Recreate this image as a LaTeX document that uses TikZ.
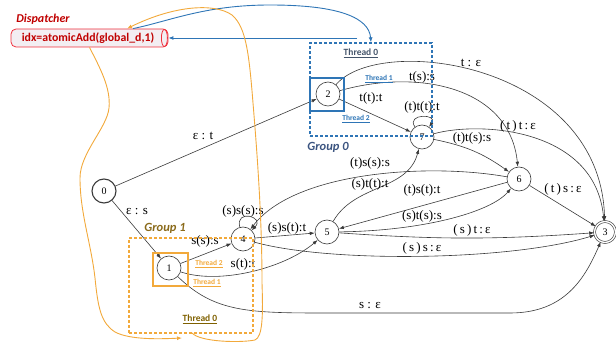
\documentclass[tikz,border=0pt]{standalone}
\usepackage{fontspec}
\setmainfont{Liberation Serif}
\newfontfamily\calib{Carlito}
\usetikzlibrary{arrows.meta,calc}
\definecolor{edgec}{HTML}{3A3A3A}
\definecolor{blueC}{HTML}{2E75B6}
\definecolor{orangeC}{HTML}{F2A93B}
\definecolor{slate}{HTML}{44546A}
\definecolor{gzero}{HTML}{3B5480}
\definecolor{gone}{HTML}{8A6A1A}
\definecolor{tzero}{HTML}{7F6000}
\definecolor{dred}{HTML}{C00000}
\definecolor{dborder}{HTML}{F0303C}
\definecolor{dfill}{HTML}{F3EEF2}
\begin{document}
\begin{tikzpicture}[x=1pt,y=1pt,
  st/.style={circle,draw=edgec,line width=0.6pt,minimum size=24pt,inner sep=0pt,font=\fontsize{10}{12}\selectfont},
  tr/.style={draw=edgec,line width=0.6pt,-{Latex[length=5pt,width=3.6pt]}},
  lb/.style={font=\fontsize{13}{15}\selectfont,inner sep=0pt,text=black},
  thr/.style={font=\calib\bfseries\fontsize{7.5}{9}\selectfont,inner sep=0pt},
  thz/.style={font=\calib\bfseries\fontsize{9.5}{11}\selectfont,inner sep=0pt},
  grp/.style={font=\calib\bfseries\itshape\fontsize{12.5}{14}\selectfont,inner sep=0pt},
  bluearr/.style={draw=blueC,line width=0.9pt,-{Latex[length=5pt,width=4pt]}},
  orarr/.style={draw=orangeC,line width=0.9pt,-{Latex[length=5pt,width=4pt]}},
  bdash/.style={draw=blueC,line width=1.3pt,dash pattern=on 3pt off 2pt,minimum width=122pt,minimum height=93pt,inner sep=0pt},
  odash/.style={draw=orangeC,line width=1.3pt,dash pattern=on 3pt off 2pt,minimum width=124pt,minimum height=95pt,inner sep=0pt}
]
\useasboundingbox (0,0) rectangle (616,343);

% states
\node[st,line width=1.1pt] (n0) at (104,152) {0};
\node[st] (n1) at (169,75) {1};
\node[st] (n2) at (328,249) {2};
\node[st,double,double distance=1.4pt,minimum size=21pt] (n3) at (605,111) {3};
\node[st] (n4) at (243,104) {4};
\node[st] (n5) at (327,111) {5};
\node[st] (n6) at (519,164) {6};
\node[st] (n7) at (422,206) {7};

% transitions
\draw[tr] (n0) -- (n2);
\draw[tr] (n0) -- (n1);
\draw[tr] (n1) -- (n4);
\draw[tr] (n1) .. controls (220,58) and (285,75) .. (n5);
\draw[tr] (n1) .. controls (215,30) and (250,30) .. (330,30) -- (510,30) .. controls (565,30) and (585,65) .. (n3);
\draw[tr] (n4) to[out=105,in=45,looseness=4] (n4);
\draw[tr] (n4) -- (n5);
\draw[tr] (n4) .. controls (330,80) and (510,82) .. (n3);
\draw[tr] (n5) to[bend right=4] (n3);
\draw[tr] (n5) .. controls (420,112) and (490,130) .. (n6);
\draw[tr] (n6) -- (n5);
\draw[tr] (n6) .. controls (430,180) and (295,172) .. (n4);
\draw[tr] (n5) to[out=60,in=-105] (n7);
\draw[tr] (n7) to[out=125,in=55,looseness=3] (n7);
\draw[tr] (n7) to[bend left=12] (n6);
\draw[tr] (n7) .. controls (480,222) and (595,215) .. (n3);
\draw[tr] (n6) -- (n3);
\draw[tr] (n2) -- (n7);
\draw[tr] (n2) .. controls (420,275) and (510,255) .. (n6);
\draw[tr] (n2) .. controls (380,310) and (600,280) .. (n3);

% labels
\node[lb] (l02) at (203,207) {ε : t};
\node[lb] (l01) at (137,131) {ε : s};
\node[lb] (l14) at (205,102) {s(s):s};
\node[lb] (l15) at (243,79) {s(t):t};
\node[lb] (l13) at (370,37) {s : ε};
\node[lb] (l44) at (243,132) {(s)s(s):s};
\node[lb] (l45) at (287,115) {(s)s(t):t};
\node[lb] (l43) at (422,95) {(\,s\,)\,s\,:\,ε};
\node[lb] (l53) at (472,113) {(\,s\,)\,t\,:\,ε};
\node[lb] (l56) at (422,127) {(s)t(s):s};
\node[lb] (l65) at (422,153) {(t)s(t):t};
\node[lb] (l64) at (370,180) {(t)s(s):s};
\node[lb] (l57) at (370,159) {(s)t(t):t};
\node[lb] (l77) at (422,236) {(t)t(t):t};
\node[lb] (l76) at (472,205) {(t)t(s):s};
\node[lb] (l73) at (518,217) {(\,t\,)\,t\,:\,ε};
\node[lb] (l63) at (563,154) {(\,t\,)\,s\,:\,ε};
\node[lb] (l27) at (371,245) {t(t):t};
\node[lb] (l26) at (422,266) {t(s):s};
\node[lb] (l23) at (471,280) {t : ε};

% groups and threads
\node[bdash] (g0) at (371,253.5) {};
\node[draw=blueC,line width=1.5pt,minimum width=34pt,minimum height=33pt,inner sep=0pt] (sq2) at (327,248.5) {};
\node[odash] (g1) at (191,57.5) {};
\node[draw=orangeC,line width=1.5pt,minimum width=35pt,minimum height=33pt,inner sep=0pt] (sq1) at (170.5,73.5) {};

\node[thz,text=slate] (t00) at (361,290) {\underline{Thread 0}};
\node[thr,text=blueC] (t01) at (379,264) {\underline{Thread 1}};
\node[thr,text=blueC] (t02) at (356,224) {\underline{Thread 2}};
\node[grp,text=gzero] (gl0) at (328,196) {Group 0};
\node[grp,text=gone] (gl1) at (165,115) {Group 1};
\node[thr,text=orangeC] (t12) at (209,79) {\underline{Thread 2}};
\node[thr,text=orangeC] (t11) at (207,60) {\underline{Thread 1}};
\node[thz,text=tzero] (t10) at (200,24) {\underline{Thread 0}};

% dispatcher
\node[font=\calib\bfseries\itshape\fontsize{12}{14}\selectfont,text=dred,inner sep=0pt] (dl) at (43,324) {Dispatcher};
\node[draw=dborder,line width=0.8pt,fill=dfill,rounded corners=5pt,minimum width=157pt,minimum height=18pt,inner sep=0pt,
      font=\calib\bfseries\fontsize{11.8}{13}\selectfont,text=dred] (disp) at (89.5,305) {\hspace{-3pt}idx=atomicAdd(global\_d,1)};
\draw[dborder,line width=0.8pt] ($(disp.east)+(-4,0)$) ellipse (3 and 8.6);

% dispatcher connectors
\coordinate (bs) at (357,305);
\draw[bluearr] (bs) -- (disp.east);
\draw[bluearr] ($(disp.north)+(43.5,0)$) .. controls (170,322) and (205,338) .. (270,338) .. controls (340,338) and (369,325) .. (g0.north);

\coordinate (oa) at (182,5);
\draw[orarr] (disp.south) .. controls (100,275) and (111,255) .. (109,235)
   .. controls (107,215) and (80,190) .. (80,165)
   .. controls (80,130) and (91,100) .. (95,65)
   .. controls (98,35) and (101,20) .. (115,11)
   .. controls (130,3) and (160,4) .. (oa);
\coordinate (ob) at (192,10);
\draw[orarr] (ob) .. controls (200,1) and (240,0) .. (255,3)
   .. controls (263,6) and (263,30) .. (262,60)
   .. controls (262,120) and (258,180) .. (253,240)
   .. controls (249,290) and (246,316) .. (232,328)
   .. controls (215,340) and (175,338) .. ($(disp.north)+(37.5,0)$);
\end{tikzpicture}
\end{document}
